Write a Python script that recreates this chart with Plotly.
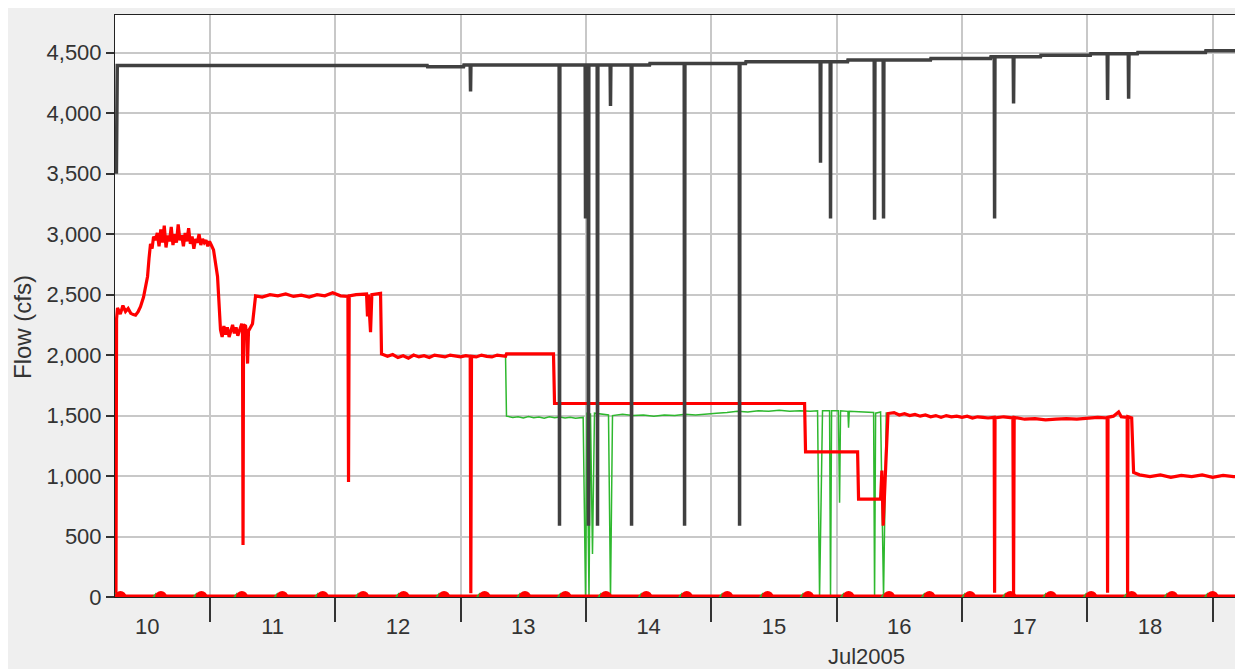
import plotly.graph_objects as go

# ---------------- data ----------------
x_range = ["2005-07-10 05:49", "2005-07-19 05:49"]

day_label_times = ["2005-07-%02d 12:00" % d for d in range(10, 19)]
day_labels = ["10", "11", "12", "13", "14", "15", "16", "17", "18"]
day_boundaries = ["2005-07-%02d 00:00" % d for d in range(11, 20)]

y_ticks = [0, 500, 1000, 1500, 2000, 2500, 3000, 3500, 4000, 4500]

gray_t = [
    "2005-07-10 06:05", "2005-07-10 06:15", "2005-07-12 17:36", "2005-07-12 17:40",
    "2005-07-13 00:34", "2005-07-13 00:38", "2005-07-13 01:50", "2005-07-13 01:54",
    "2005-07-13 01:58", "2005-07-13 18:52", "2005-07-13 18:56", "2005-07-13 19:00",
    "2005-07-13 23:51", "2005-07-13 23:55", "2005-07-13 23:59", "2005-07-14 00:25",
    "2005-07-14 00:29", "2005-07-14 00:33", "2005-07-14 02:09", "2005-07-14 02:13",
    "2005-07-14 02:17", "2005-07-14 04:38", "2005-07-14 04:42", "2005-07-14 04:46",
    "2005-07-14 08:40", "2005-07-14 08:44", "2005-07-14 08:48", "2005-07-14 12:11",
    "2005-07-14 12:15", "2005-07-14 18:49", "2005-07-14 18:53", "2005-07-14 18:57",
    "2005-07-15 05:21", "2005-07-15 05:25", "2005-07-15 05:29", "2005-07-15 06:34",
    "2005-07-15 06:38", "2005-07-15 20:51", "2005-07-15 20:55", "2005-07-15 20:59",
    "2005-07-15 22:46", "2005-07-15 22:50", "2005-07-15 22:54", "2005-07-16 02:06",
    "2005-07-16 02:10", "2005-07-16 07:12", "2005-07-16 07:16", "2005-07-16 07:20",
    "2005-07-16 08:55", "2005-07-16 08:59", "2005-07-16 09:03", "2005-07-16 17:59",
    "2005-07-16 18:03", "2005-07-17 05:29", "2005-07-17 05:33", "2005-07-17 06:11",
    "2005-07-17 06:15", "2005-07-17 06:19", "2005-07-17 09:49", "2005-07-17 09:53",
    "2005-07-17 09:57", "2005-07-17 15:03", "2005-07-17 15:07", "2005-07-18 00:36",
    "2005-07-18 00:40", "2005-07-18 03:49", "2005-07-18 03:53", "2005-07-18 03:57",
    "2005-07-18 07:51", "2005-07-18 07:55", "2005-07-18 07:59", "2005-07-18 09:36",
    "2005-07-18 09:40", "2005-07-18 22:38", "2005-07-18 22:42", "2005-07-19 05:49",
]
gray_v = [
    3500, 4395, 4395, 4385,
    4385, 4398, 4398, 4180,
    4398, 4398, 590, 4398,
    4398, 3130, 4398, 4398,
    590, 4398, 4398, 590,
    4398, 4398, 4060, 4398,
    4398, 590, 4398, 4398,
    4412, 4412, 590, 4412,
    4412, 590, 4412, 4412,
    4425, 4425, 3590, 4425,
    4425, 3130, 4425, 4425,
    4440, 4440, 3120, 4440,
    4440, 3130, 4440, 4440,
    4453, 4453, 4466, 4466,
    3130, 4466, 4466, 4080,
    4466, 4466, 4480, 4480,
    4492, 4492, 4110, 4492,
    4492, 4120, 4492, 4492,
    4502, 4502, 4516, 4516,
]

red_t = [
    "2005-07-10 06:00", "2005-07-10 06:07", "2005-07-10 06:18", "2005-07-10 06:50",
    "2005-07-10 07:20", "2005-07-10 07:50", "2005-07-10 08:20", "2005-07-10 08:50",
    "2005-07-10 09:20", "2005-07-10 09:45", "2005-07-10 10:15", "2005-07-10 10:42",
    "2005-07-10 11:17", "2005-07-10 11:40", "2005-07-10 12:03", "2005-07-10 12:20",
    "2005-07-10 12:37", "2005-07-10 12:55", "2005-07-10 13:12", "2005-07-10 13:35",
    "2005-07-10 13:55", "2005-07-10 14:15", "2005-07-10 14:35", "2005-07-10 14:55",
    "2005-07-10 15:15", "2005-07-10 15:35", "2005-07-10 15:55", "2005-07-10 16:15",
    "2005-07-10 16:35", "2005-07-10 16:55", "2005-07-10 17:15", "2005-07-10 17:35",
    "2005-07-10 17:55", "2005-07-10 18:15", "2005-07-10 18:35", "2005-07-10 18:55",
    "2005-07-10 19:15", "2005-07-10 19:35", "2005-07-10 19:55", "2005-07-10 20:15",
    "2005-07-10 20:35", "2005-07-10 20:55", "2005-07-10 21:15", "2005-07-10 21:35",
    "2005-07-10 21:55", "2005-07-10 22:15", "2005-07-10 22:35", "2005-07-10 22:55",
    "2005-07-10 23:15", "2005-07-10 23:35", "2005-07-10 23:55", "2005-07-11 00:15",
    "2005-07-11 00:41", "2005-07-11 01:27", "2005-07-11 02:01", "2005-07-11 02:20",
    "2005-07-11 02:40", "2005-07-11 03:00", "2005-07-11 03:20", "2005-07-11 03:40",
    "2005-07-11 04:00", "2005-07-11 04:20", "2005-07-11 04:40", "2005-07-11 05:00",
    "2005-07-11 05:20", "2005-07-11 05:40", "2005-07-11 06:05", "2005-07-11 06:14",
    "2005-07-11 06:20", "2005-07-11 06:26", "2005-07-11 06:49", "2005-07-11 07:00",
    "2005-07-11 07:12", "2005-07-11 07:23", "2005-07-11 07:45", "2005-07-11 08:09",
    "2005-07-11 08:44", "2005-07-11 10:00", "2005-07-11 11:30", "2005-07-11 13:00",
    "2005-07-11 14:30", "2005-07-11 16:00", "2005-07-11 17:30", "2005-07-11 19:00",
    "2005-07-11 20:30", "2005-07-11 22:00", "2005-07-11 23:30", "2005-07-12 01:00",
    "2005-07-12 02:25", "2005-07-12 02:32", "2005-07-12 02:40", "2005-07-12 04:00",
    "2005-07-12 05:59", "2005-07-12 06:10", "2005-07-12 06:20", "2005-07-12 06:45",
    "2005-07-12 07:00", "2005-07-12 08:40", "2005-07-12 08:51", "2005-07-12 10:00",
    "2005-07-12 11:00", "2005-07-12 12:00", "2005-07-12 13:00", "2005-07-12 14:00",
    "2005-07-12 15:00", "2005-07-12 16:00", "2005-07-12 17:00", "2005-07-12 18:00",
    "2005-07-12 19:00", "2005-07-12 20:00", "2005-07-12 21:00", "2005-07-12 22:00",
    "2005-07-12 23:00", "2005-07-13 00:00", "2005-07-13 01:00", "2005-07-13 01:50",
    "2005-07-13 01:57", "2005-07-13 02:05", "2005-07-13 03:00", "2005-07-13 04:00",
    "2005-07-13 05:00", "2005-07-13 06:00", "2005-07-13 07:00", "2005-07-13 08:36",
    "2005-07-13 08:47", "2005-07-13 17:47", "2005-07-13 17:59", "2005-07-15 17:52",
    "2005-07-15 18:03", "2005-07-16 04:01", "2005-07-16 04:12", "2005-07-16 08:25",
    "2005-07-16 08:40", "2005-07-16 08:55", "2005-07-16 09:50", "2005-07-16 11:00",
    "2005-07-16 12:00", "2005-07-16 13:00", "2005-07-16 14:00", "2005-07-16 15:00",
    "2005-07-16 16:00", "2005-07-16 17:00", "2005-07-16 18:00", "2005-07-16 19:00",
    "2005-07-16 20:00", "2005-07-16 21:00", "2005-07-16 22:00", "2005-07-16 23:00",
    "2005-07-17 00:00", "2005-07-17 01:00", "2005-07-17 02:00", "2005-07-17 03:00",
    "2005-07-17 04:00", "2005-07-17 05:00", "2005-07-17 06:10", "2005-07-17 06:15",
    "2005-07-17 06:20", "2005-07-17 08:00", "2005-07-17 09:45", "2005-07-17 09:53",
    "2005-07-17 10:00", "2005-07-17 12:00", "2005-07-17 14:00", "2005-07-17 16:00",
    "2005-07-17 18:00", "2005-07-17 20:00", "2005-07-17 22:00", "2005-07-18 00:00",
    "2005-07-18 02:00", "2005-07-18 03:48", "2005-07-18 03:53", "2005-07-18 03:58",
    "2005-07-18 05:00", "2005-07-18 06:00", "2005-07-18 06:30", "2005-07-18 07:38",
    "2005-07-18 07:43", "2005-07-18 07:48", "2005-07-18 08:30", "2005-07-18 08:52",
    "2005-07-18 10:00", "2005-07-18 12:00", "2005-07-18 14:00", "2005-07-18 16:00",
    "2005-07-18 18:00", "2005-07-18 20:00", "2005-07-18 22:00", "2005-07-19 00:00",
    "2005-07-19 02:00", "2005-07-19 04:00", "2005-07-19 05:49",
]
red_v = [
    0, 2300, 2390, 2340,
    2410, 2360, 2385, 2345,
    2335, 2330, 2360, 2400,
    2480, 2560, 2650, 2800,
    2920, 2880, 2980, 2950,
    3010, 2900, 3040, 2930,
    3070, 2890, 2990, 2940,
    3060, 2910, 3000, 2930,
    3080, 2950, 2990, 2900,
    3010, 2940, 3050, 2920,
    2980, 2880, 2960, 2930,
    3000, 2910, 2960, 2930,
    2950, 2900, 2940, 2910,
    2870, 2650, 2210, 2150,
    2240, 2170, 2230, 2150,
    2210, 2250, 2180, 2230,
    2160, 2200, 2260, 2200,
    430, 2250, 2240, 2180,
    1930, 2200, 2230, 2260,
    2490, 2480, 2500, 2490,
    2505, 2485, 2495, 2480,
    2500, 2490, 2515, 2490,
    2485, 950, 2490, 2500,
    2505, 2320, 2500, 2190,
    2500, 2510, 2010, 1990,
    2005, 1980, 1995, 1975,
    2000, 1985, 1995, 1980,
    2000, 1990, 1985, 2000,
    1990, 1985, 1995, 1990,
    30, 1990, 1985, 2000,
    1990, 1985, 2000, 1990,
    2010, 2010, 1600, 1600,
    1200, 1200, 810, 810,
    1045, 590, 1517, 1525,
    1505, 1515, 1500, 1510,
    1495, 1505, 1490, 1500,
    1485, 1500, 1490, 1495,
    1485, 1495, 1480, 1490,
    1485, 1480, 1485, 35,
    1480, 1490, 1480, 0,
    1485, 1470, 1475, 1465,
    1470, 1475, 1470, 1480,
    1485, 1480, 35, 1485,
    1495, 1530, 1490, 1485,
    0, 1490, 1480, 1030,
    1010, 995, 1010, 990,
    1005, 995, 1010, 990,
    1005, 995, 1000,
]

green_t = [
    "2005-07-13 08:36", "2005-07-13 08:47", "2005-07-13 10:00", "2005-07-13 11:00",
    "2005-07-13 12:00", "2005-07-13 13:00", "2005-07-13 14:00", "2005-07-13 15:00",
    "2005-07-13 16:00", "2005-07-13 17:00", "2005-07-13 18:00", "2005-07-13 19:00",
    "2005-07-13 20:00", "2005-07-13 21:00", "2005-07-13 22:00", "2005-07-13 23:28",
    "2005-07-13 23:55", "2005-07-14 00:12", "2005-07-14 00:35", "2005-07-14 00:52",
    "2005-07-14 01:15", "2005-07-14 01:38", "2005-07-14 04:19", "2005-07-14 04:42",
    "2005-07-14 05:05", "2005-07-14 07:00", "2005-07-14 09:00", "2005-07-14 11:00",
    "2005-07-14 13:00", "2005-07-14 15:00", "2005-07-14 17:00", "2005-07-14 19:00",
    "2005-07-14 21:00", "2005-07-14 23:00", "2005-07-15 01:00", "2005-07-15 03:00",
    "2005-07-15 05:00", "2005-07-15 07:00", "2005-07-15 09:00", "2005-07-15 11:00",
    "2005-07-15 13:00", "2005-07-15 15:00", "2005-07-15 17:00", "2005-07-15 19:00",
    "2005-07-15 20:21", "2005-07-15 20:44", "2005-07-15 21:18", "2005-07-15 22:39",
    "2005-07-15 22:50", "2005-07-15 23:02", "2005-07-16 00:20", "2005-07-16 00:34",
    "2005-07-16 00:45", "2005-07-16 02:10", "2005-07-16 02:17", "2005-07-16 02:25",
    "2005-07-16 05:00", "2005-07-16 07:05", "2005-07-16 07:16", "2005-07-16 07:28",
    "2005-07-16 08:25", "2005-07-16 08:59", "2005-07-16 09:30", "2005-07-16 09:50",
]
green_v = [
    1990, 1495, 1485, 1490,
    1480, 1492, 1483, 1488,
    1478, 1490, 1482, 1488,
    1480, 1486, 1478, 1485,
    0, 1525, 0, 1520,
    355, 1520, 1505, 0,
    1500, 1510, 1500, 1505,
    1495, 1505, 1500, 1510,
    1505, 1515, 1520, 1525,
    1535, 1530, 1540, 1535,
    1545, 1535, 1540, 1535,
    1540, 0, 1540, 1540,
    0, 1540, 1540, 780,
    1540, 1535, 1400, 1535,
    1530, 1525, 0, 1520,
    1530, 0, 1520, 1517,
]

red_marker_t = [
    "2005-07-10 06:52", "2005-07-10 14:37", "2005-07-10 22:22", "2005-07-11 06:07",
    "2005-07-11 13:51", "2005-07-11 21:36", "2005-07-12 05:20", "2005-07-12 13:05",
    "2005-07-12 20:50", "2005-07-13 04:35", "2005-07-13 12:19", "2005-07-13 20:04",
    "2005-07-14 03:49", "2005-07-14 11:33", "2005-07-14 19:18", "2005-07-15 03:03",
    "2005-07-15 10:47", "2005-07-15 18:32", "2005-07-16 02:17", "2005-07-16 10:02",
    "2005-07-16 17:46", "2005-07-17 01:31", "2005-07-17 09:16", "2005-07-17 17:01",
    "2005-07-18 00:45", "2005-07-18 08:30", "2005-07-18 16:14", "2005-07-18 23:59",
]
green_marker_t = [
    "2005-07-10 05:54", "2005-07-10 13:39", "2005-07-10 21:24", "2005-07-11 05:09",
    "2005-07-11 12:53", "2005-07-11 20:38", "2005-07-12 04:22", "2005-07-12 12:07",
    "2005-07-12 19:52", "2005-07-13 03:37", "2005-07-13 11:21", "2005-07-13 19:06",
    "2005-07-14 02:51", "2005-07-14 10:35", "2005-07-14 18:20", "2005-07-15 02:05",
    "2005-07-15 09:49", "2005-07-15 17:34", "2005-07-16 01:19", "2005-07-16 09:04",
    "2005-07-16 16:48", "2005-07-17 00:33", "2005-07-17 08:18", "2005-07-17 16:03",
    "2005-07-17 23:47", "2005-07-18 07:32", "2005-07-18 15:16", "2005-07-18 23:01",
]
marker_v = [0] * len(red_marker_t)

# ---------------- figure ----------------
RED = "#FF0000"
GRAY = "#404040"
GREEN = "#2EB82E"
TXT = "#333333"
GRID = "#C8C8C8"
FONT = "Liberation Sans, Arial, sans-serif"

fig = go.Figure()
fig.add_trace(go.Scatter(x=green_t, y=green_v, mode="lines",
                         line=dict(color=GREEN, width=1.5), showlegend=False))
fig.add_trace(go.Scatter(x=red_t, y=red_v, mode="lines",
                         line=dict(color=RED, width=3.2), showlegend=False))
fig.add_trace(go.Scatter(x=gray_t, y=gray_v, mode="lines",
                         line=dict(color=GRAY, width=3.5), showlegend=False))
fig.add_trace(go.Scatter(x=x_range, y=[0, 0], mode="lines",
                         line=dict(color=RED, width=5), showlegend=False))
fig.add_trace(go.Scatter(x=green_marker_t, y=marker_v, mode="markers",
                         marker=dict(symbol="triangle-up", color=GREEN, size=9,
                                     line=dict(width=0)),
                         showlegend=False))
fig.add_trace(go.Scatter(x=red_marker_t, y=marker_v, mode="markers",
                         marker=dict(symbol="circle", color=RED, size=12,
                                     line=dict(width=0)),
                         showlegend=False))

# page body adds an 8px offset; the figure fills the rest of the window
OFF = 8
W, H = 1243 - OFF, 669 - OFF
ML, MR, MT, MB = 115 - OFF, 0, 15 - OFF, 72
PW, PH = W - ML - MR, H - MT - MB


def px_x(px):
    return (px - OFF - ML) / PW


def px_y(py):
    return (H - MB - (py - OFF)) / PH


fig.update_layout(
    width=W, height=H,
    margin=dict(l=ML, r=MR, t=MT, b=MB, pad=0),
    paper_bgcolor="#EFEFEF",
    plot_bgcolor="white",
    font=dict(family=FONT, size=22, color=TXT),
    showlegend=False,
    xaxis=dict(
        type="date",
        range=x_range,
        tickmode="array",
        tickvals=day_label_times,
        ticktext=day_labels,
        ticks="outside",
        ticklen=10,
        tickcolor="rgba(0,0,0,0)",
        showgrid=False,
        showline=True,
        linecolor="#222222",
        linewidth=1,
        mirror=True,
        zeroline=False,
        tickfont=dict(size=22, color=TXT),
        minor=dict(
            tickmode="array",
            tickvals=day_boundaries,
            ticks="outside",
            ticklen=24,
            tickwidth=1.5,
            tickcolor="#333333",
            showgrid=True,
            gridcolor=GRID,
            gridwidth=1.5,
        ),
    ),
    yaxis=dict(
        range=[0, 4812],
        tickmode="array",
        tickvals=y_ticks,
        tickformat=",d",
        ticks="outside",
        ticklen=8,
        tickwidth=1.5,
        tickcolor="#333333",
        showgrid=True,
        gridcolor=GRID,
        gridwidth=1.5,
        showline=True,
        linecolor="#222222",
        linewidth=1,
        zeroline=False,
        tickfont=dict(size=22, color=TXT),
    ),
    annotations=[
        dict(text="Flow (cfs)", xref="paper", yref="paper",
             x=px_x(22), y=px_y(327), textangle=-90, showarrow=False,
             xanchor="center", yanchor="middle",
             font=dict(size=24, color=TXT)),
        dict(text="Jul2005", xref="paper", yref="paper",
             x=px_x(866), y=px_y(656), showarrow=False,
             xanchor="center", yanchor="middle",
             font=dict(size=22, color=TXT)),
    ],
)

fig.write_html("out.html")
